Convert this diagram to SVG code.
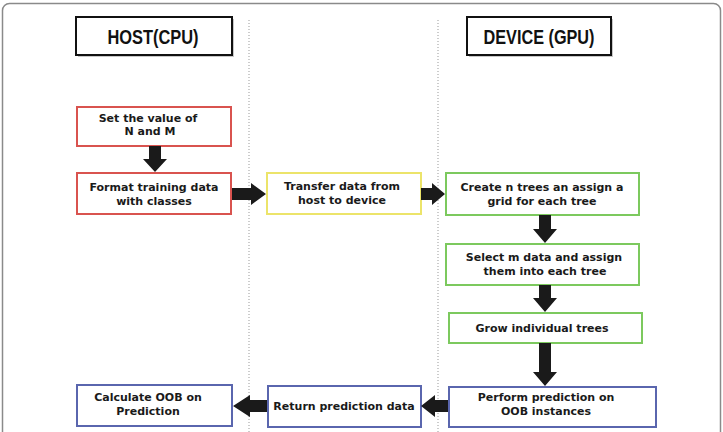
<svg xmlns="http://www.w3.org/2000/svg" width="723" height="432" viewBox="0 0 723 432">
<defs>
<style>
.t{font-family:"DejaVu Sans","Verdana",sans-serif;font-weight:bold;font-size:11px;fill:#1a1a1a;text-anchor:middle}
.h{font-family:"Liberation Sans",Arial,sans-serif;font-weight:bold;font-size:20px;fill:#111;text-anchor:middle}
.hb{fill:#fff;stroke:#111;stroke-width:2}
.sh{fill:#c8c8c8}
.red{fill:#fff;stroke:#d9534f;stroke-width:2}
.yel{fill:#fff;stroke:#ece46a;stroke-width:2}
.grn{fill:#fff;stroke:#7cc95e;stroke-width:2}
.blu{fill:#fff;stroke:#5a66ae;stroke-width:2}
.dl{stroke:#999;stroke-width:1;stroke-dasharray:1 2}
.ar{fill:#1a1a1a}
</style>
</defs>
<rect width="723" height="432" fill="#fff"/>
<rect x="2.5" y="3.5" width="718" height="445" rx="7" fill="none" stroke="#8a8a8a" stroke-width="1.5"/>
<line class="dl" x1="249" y1="20" x2="249" y2="432"/>
<line class="dl" x1="438" y1="20" x2="438" y2="432"/>

<g id="host">
<rect class="sh" x="78" y="19" width="156" height="38"/>
<rect class="hb" x="76" y="17" width="156" height="38"/>
<text class="h" x="153" y="44" textLength="91" lengthAdjust="spacingAndGlyphs">HOST(CPU)</text>
</g>
<g id="device">
<rect class="sh" x="469" y="19" width="144" height="38"/>
<rect class="hb" x="467" y="17" width="144" height="38"/>
<text class="h" x="539" y="44" textLength="111" lengthAdjust="spacingAndGlyphs">DEVICE (GPU)</text>
</g>

<g id="set">
<rect class="red" x="77" y="107" width="154" height="39"/>
<text class="t" x="148" y="122">Set the value of</text>
<text class="t" x="150" y="135">N and M</text>
</g>
<g id="format">
<rect class="red" x="77" y="173" width="154" height="41"/>
<text class="t" x="154" y="191">Format training data</text>
<text class="t" x="154" y="205">with classes</text>
</g>
<g id="transfer">
<rect class="yel" x="267" y="173" width="154" height="41"/>
<text class="t" x="342" y="190">Transfer data from</text>
<text class="t" x="342" y="204">host to device</text>
</g>
<g id="create">
<rect class="grn" x="446" y="173" width="193" height="42"/>
<text class="t" x="542" y="191">Create n trees an assign a</text>
<text class="t" x="542" y="205">grid for each tree</text>
</g>
<g id="select">
<rect class="grn" x="446" y="244" width="193" height="41"/>
<text class="t" x="544" y="261">Select m data and assign</text>
<text class="t" x="545" y="275">them into each tree</text>
</g>
<g id="grow">
<rect class="grn" x="449" y="313" width="193" height="30"/>
<text class="t" x="542" y="332">Grow individual trees</text>
</g>
<g id="perform">
<rect class="blu" x="449" y="387" width="207" height="40"/>
<text class="t" x="546" y="401">Perform prediction on</text>
<text class="t" x="546" y="415">OOB instances</text>
</g>
<g id="return">
<rect class="blu" x="268" y="386" width="153" height="41"/>
<text class="t" x="344" y="410">Return prediction data</text>
</g>
<g id="calculate">
<rect class="blu" x="77" y="385" width="155" height="41"/>
<text class="t" x="148" y="401">Calculate OOB on</text>
<text class="t" x="148" y="415">Prediction</text>
</g>

<g id="connectors">
<polygon class="ar" points="149,146 161,146 161,159 167,159 155,172 143,159 149,159"/>
<polygon class="ar" points="232,188 251,188 251,183 266,194 251,205 251,200 232,200"/>
<polygon class="ar" points="421,188 432,188 432,183 445,194 432,205 432,200 421,200"/>
<polygon class="ar" points="539,215 551,215 551,229 557,229 545,243 533,229 539,229"/>
<polygon class="ar" points="539,285 551,285 551,298 557,298 545,312 533,298 539,298"/>
<polygon class="ar" points="539,343 551,343 551,372 557,372 545,386 533,372 539,372"/>
<polygon class="ar" points="448,400 435,400 435,395 421,406 435,417 435,412 448,412"/>
<polygon class="ar" points="267,400 250,400 250,395 233,406 250,417 250,412 267,412"/>
</g>
</svg>
